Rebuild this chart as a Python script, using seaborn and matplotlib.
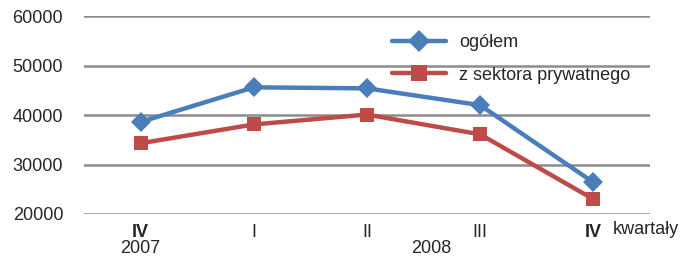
import matplotlib
matplotlib.use('Agg')
import matplotlib.pyplot as plt
import seaborn as sns
import pandas as pd

# Data
quarters = ['IV', 'I', 'II', 'III', 'IV']
bold_q = [True, False, False, False, True]
ogolem = [38600, 45600, 45400, 42000, 26400]
prywatny = [34300, 38100, 40100, 36100, 23000]
y_ticks = [20000, 30000, 40000, 50000, 60000]

sns.set_style('white')
plt.rcParams['font.family'] = ['Liberation Sans', 'DejaVu Sans']

df = pd.DataFrame({
    'pos': list(range(len(quarters))) * 2,
    'val': ogolem + prywatny,
    'series': ['ogółem'] * 5 + ['z sektora prywatnego'] * 5,
})

fig = plt.figure(figsize=(6.86, 2.6), dpi=100)
ax = fig.add_axes([0.1224, 0.177, 0.825, 0.761])

for y in y_ticks:
    ax.axhline(y, color='#8c8c8c', lw=1.8, zorder=0)

sns.lineplot(data=df, x='pos', y='val', hue='series', style='series',
             palette=['#4a7ebb', '#be4b48'],
             markers=['D', 's'], dashes=False,
             markersize=10, lw=3.2, markeredgewidth=0,
             ax=ax)

fs = 13
ax.set_xlim(-0.5, 4.5)
ax.set_ylim(20000, 60000)
ax.set_yticks(y_ticks)
ax.set_yticklabels([str(v) for v in y_ticks], fontsize=fs)
ax.set_xticks(range(len(quarters)))
ax.set_xticklabels(quarters, fontsize=fs)
for lab, b in zip(ax.get_xticklabels(), bold_q):
    if b:
        lab.set_fontweight('bold')
ax.tick_params(axis='x', length=0, pad=7)
ax.tick_params(axis='y', length=0, pad=15)
ax.set_xlabel('')
ax.set_ylabel('')
for s in ax.spines.values():
    s.set_visible(False)

# years and axis name
trans = ax.get_xaxis_transform()
ax.text(0, -0.172, '2007', transform=trans, ha='center', va='center',
        fontsize=fs)
ax.text(2.57, -0.172, '2008', transform=trans, ha='center', va='center',
        fontsize=fs)
ax.text(4.17, -0.08, 'kwartały', transform=trans, ha='left',
        va='center', fontsize=fs)

handles, labels = ax.get_legend_handles_labels()
for h in handles:
    h.set_markersize(11)
ax.legend(handles, labels, loc='upper left',
          bbox_to_anchor=(0.516, 0.99), frameon=False, fontsize=fs,
          handlelength=3.0, handletextpad=0.7, labelspacing=0.85)

fig.savefig('out.png', dpi=100)
